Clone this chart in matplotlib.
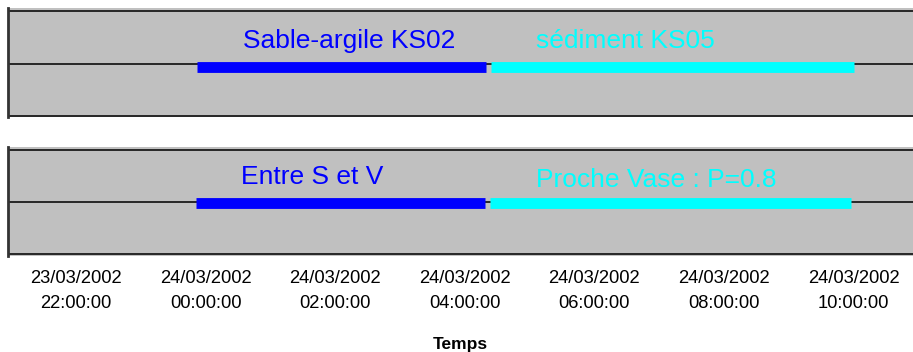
"""
Timeline of sediment type classification over the night of 23-24/03/2002.
Two stacked strips: raw classification (top) and interpreted class (bottom).
"""
from datetime import datetime

import matplotlib.pyplot as plt
import matplotlib.dates as mdates

# Tick positions (every 2 hours)
tick_times = [datetime(2002, 3, 23, 22, 0), datetime(2002, 3, 24, 0, 0),
              datetime(2002, 3, 24, 2, 0), datetime(2002, 3, 24, 4, 0),
              datetime(2002, 3, 24, 6, 0), datetime(2002, 3, 24, 8, 0),
              datetime(2002, 3, 24, 10, 0)]
x_start = datetime(2002, 3, 23, 20, 57)
x_end = datetime(2002, 3, 24, 10, 55)

# Top strip: segments (start, end, label)
top_starts = [datetime(2002, 3, 23, 23, 52), datetime(2002, 3, 24, 4, 24)]
top_ends = [datetime(2002, 3, 24, 4, 20), datetime(2002, 3, 24, 10, 0)]
top_labels = ["Sable-argile KS02", "sédiment KS05"]
top_label_x = [datetime(2002, 3, 24, 0, 35), datetime(2002, 3, 24, 5, 6)]
top_level = [0.94, 0.94]

# Bottom strip
bot_starts = [datetime(2002, 3, 23, 23, 51), datetime(2002, 3, 24, 4, 23)]
bot_ends = [datetime(2002, 3, 24, 4, 19), datetime(2002, 3, 24, 9, 58)]
bot_labels = ["Entre S et V", "Proche Vase : P=0.8"]
bot_label_x = [datetime(2002, 3, 24, 0, 33), datetime(2002, 3, 24, 5, 6)]
bot_level = [0.98, 0.98]

seg_colors = ["#0000FF", "#00FFFF"]
label_y_top = [1.30, 1.30]
label_y_bot = [1.34, 1.295]

W, H = 913, 352
fig = plt.figure(figsize=(W / 100, H / 100), dpi=100)
plt.rcParams["font.family"] = ["Liberation Sans", "DejaVu Sans"]


def make_strip(rect, starts, ends, levels, labels, label_x, label_y):
    ax = fig.add_axes(rect)
    ax.set_facecolor("#C0C0C0")
    ax.set_xlim(x_start, x_end)
    ax.set_ylim(-0.03, 2.057)
    for y in (0, 1, 2):
        ax.axhline(y, color="#1a1a1a", linewidth=1.3, zorder=1)
    for s, e, lv, c in zip(starts, ends, levels, seg_colors):
        ax.plot([s, e], [lv, lv], color=c, linewidth=7.8,
                solid_capstyle="butt", zorder=3)
    for lab, lx, ly, c in zip(labels, label_x, label_y, seg_colors):
        ax.text(lx, ly, lab, color=c, fontsize=19, ha="left", va="baseline")
    for side in ("top", "right", "bottom"):
        ax.spines[side].set_visible(False)
    ax.spines["left"].set_color("#333333")
    ax.spines["left"].set_linewidth(2)
    ax.set_yticks([])
    return ax


ax1 = make_strip([8 / W, 1 - 117.3 / H, (W - 8) / W, 109 / H],
                 top_starts, top_ends, top_level, top_labels,
                 top_label_x, label_y_top)
ax1.set_xticks([])

ax2 = make_strip([8 / W, 1 - 256 / H, (W - 8) / W, 109.3 / H],
                 bot_starts, bot_ends, bot_level, bot_labels,
                 bot_label_x, label_y_bot)
ax2.set_xticks(tick_times)
ax2.xaxis.set_major_formatter(mdates.DateFormatter("%d/%m/%Y\n%H:%M:%S"))
ax2.tick_params(axis="x", length=0, pad=10, labelsize=13.2)
for lbl in ax2.get_xticklabels():
    lbl.set_linespacing(1.65)
ax2.set_xlabel("Temps", fontsize=12.5, fontweight="bold", labelpad=18)

fig.savefig("out.png", dpi=100)
